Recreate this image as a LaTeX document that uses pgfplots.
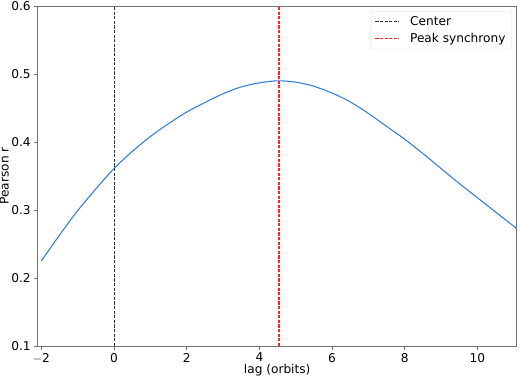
\documentclass[border=0pt]{standalone}
\usepackage{fontspec}
\setmainfont{DejaVu Sans}
\usepackage{pgfplots}
\pgfplotsset{compat=1.18}
\definecolor{mplblue}{HTML}{3A80D8}
\definecolor{spine}{gray}{0.45}
\definecolor{mplred}{rgb}{0.96,0.15,0.15}
\begin{document}
\begin{tikzpicture}
\begin{axis}[
  name=ax,
  scale only axis,
  width=479bp, height=340bp,
  xmin=-2.1, xmax=11.08,
  ymin=0.1, ymax=0.6,
  xtick={-2,0,2,4,6,8,10},
  ytick={0.1,0.2,0.3,0.4,0.5,0.6},
  yticklabels={0.1,0.2,0.3,0.4,0.5,0.6},
  xticklabels={$-$2,0,2,4,6,8,10},
  tick align=outside,
  tick pos=left,
  major tick length=3.5bp,
  every tick/.style={spine, line width=0.8bp},
  axis line style={spine, line width=0.8bp},
  /pgf/number format/assume math mode=true,
  ticklabel style={font=\fontsize{12.2}{14}\selectfont, text=black},
  xlabel={lag (orbits)},
  ylabel={Pearson r},
  xlabel style={font=\fontsize{12.2}{14}\selectfont, at={(rel axis cs:0.5,0)}, anchor=base, inner sep=0pt, yshift=-27.5bp},
  ylabel style={font=\fontsize{12.2}{14}\selectfont, at={(rel axis cs:0,0.5)}, anchor=south, inner sep=0pt, yshift=28.8bp},
  legend style={
    at={(rel axis cs:1,1)}, anchor=north east,
    xshift=-5bp, yshift=-5.3bp,
    draw=black!13, rounded corners=2bp,
    font=\fontsize{12.2}{14}\selectfont,
    row sep=2.5bp, inner xsep=4bp, inner ysep=2.9bp,
    cells={anchor=west},
    /tikz/every odd column/.append style={column sep=8bp},
  },
  legend image code/.code={\draw[#1] (0cm,0cm) -- (24bp,0cm);},
]
\addplot[mplblue, line width=1.1bp, smooth, forget plot] coordinates {
(-2.0,0.225) (-1.5,0.263) (-1.0,0.299) (-0.5,0.331) (0.0,0.361)
(0.5,0.386) (1.0,0.408) (1.5,0.427) (2.0,0.444) (2.5,0.458)
(3.0,0.471) (3.5,0.481) (4.0,0.487) (4.5,0.490) (5.0,0.488)
(5.5,0.482) (6.0,0.472) (6.5,0.459) (7.0,0.442) (7.5,0.423)
(8.0,0.404) (8.5,0.383) (9.0,0.361) (9.5,0.339) (10.0,0.318)
(10.5,0.297) (11.0,0.276) (11.08,0.272)
};
\addplot[draw=black!80, line width=1bp, dash pattern=on 3.2bp off 1.4bp] coordinates {(0,0.1) (0,0.6)};
\addlegendentry{Center}
\addplot[draw=mplred, line width=1.25bp, dash pattern=on 3.2bp off 1.4bp] coordinates {(4.54,0.1) (4.54,0.6)};
\addlegendentry{Peak synchrony}
\end{axis}
\pgfresetboundingbox
\path ([shift={(-37.7bp,-31.3bp)}]ax.south west) rectangle ([shift={(3.3bp,6bp)}]ax.north east);
\end{tikzpicture}
\end{document}
